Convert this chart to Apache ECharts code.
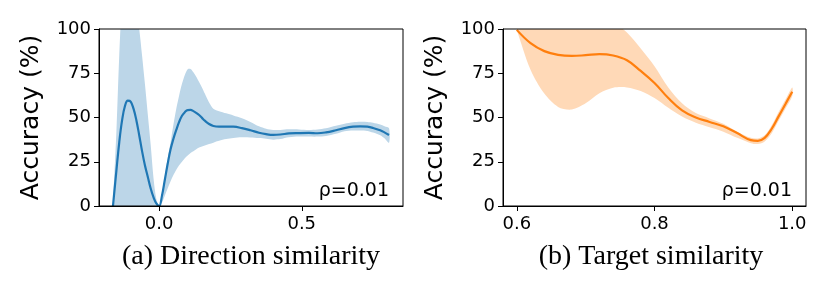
<!DOCTYPE html>
<html>
<head>
<meta charset="utf-8">
<script src="https://cdn.jsdelivr.net/npm/echarts@6/dist/echarts.min.js"></script>
<style>html,body{margin:0;padding:0;background:#fff}#c{width:830px;height:281px}</style>
</head>
<body>
<div id="c"></div>
<script>
// ---- Data: (a) Direction similarity ----
const xA = [-0.162,-0.15,-0.14,-0.13,-0.12,-0.11,-0.10,-0.09,-0.08,-0.07,-0.06,-0.05,-0.04,-0.03,-0.02,-0.01,0.0,0.01,0.02,0.03,0.04,0.05,0.06,0.07,0.08,0.09,0.10,0.11,0.12,0.13,0.14,0.15,0.16,0.175,0.19,0.21,0.235,0.26,0.29,0.32,0.35,0.375,0.40,0.425,0.455,0.49,0.525,0.555,0.585,0.62,0.65,0.68,0.705,0.73,0.75,0.775,0.79,0.806];
const meanA = [0,20,36,48.5,56.5,59.5,59,55,48.5,40,31,23,16.5,10,5,1.5,0,6,15,24,32,38,43,47.5,51,53,54.2,54.3,53.6,52.6,51.4,49.8,48.2,46.3,45.2,44.8,44.9,44.8,44,42.8,41.4,40.6,40.2,40.4,41,41.2,41.3,41.1,41.6,42.8,44,44.8,45,44.8,44.1,42.8,41.6,40.1];
const upA = [2,42,85,118,135,140,137,126,110,100,85,69,52,35,16,4,0,7,17,27,36,46,55,62.5,69,74,77.3,77.4,75.5,73,70,67,63.5,58.5,55,53.6,52.4,51.2,49.6,47.5,45,43.6,42.9,43,43.3,43.2,42.9,43.2,43.9,45.3,46.5,47.3,47.6,47.5,47,46,45.1,43.9];
const lowA = [0,-20,-40,-55,-65,-68,-66,-60,-50,-40,-30,-22,-15,-9,-4,-1,0,2,6,10,14,17.5,20.5,23,25,27,28.5,30,31,32,33,33.6,34.2,35,35.8,36.8,37.8,38.4,38.8,38.7,38.4,38,37.5,37.8,38.8,39.2,39.2,39.2,39.5,40.8,42.2,42.6,42.6,42.4,41.5,40,38.3,35.8];

// ---- Data: (b) Target similarity ----
const xB = [0.60,0.62,0.64,0.66,0.68,0.70,0.72,0.74,0.76,0.78,0.80,0.82,0.84,0.86,0.88,0.90,0.92,0.94,0.95,0.96,0.97,0.98,0.99,1.00];
const meanB = [99.5,92,87.5,85.4,84.8,85.2,85.8,85,82.3,76.3,69.5,61,54,50,47.5,45,41.2,37.2,36.8,38.5,43.5,50.5,57.5,64.6];
const upB = [99.5,108,112,115,116,114,110,104,98,89,79,67,58,52.5,49.5,46.5,42,38.5,38.2,40,45.5,53,60,67];
const lowB = [99.5,77,63.5,56,54.5,58,63.7,66.8,67,65,61,55.5,50.5,47,44.5,42,38.5,35.5,35,36.5,41,48,55,62];

// ---- Ticks / labels ----
const yTicks = [0,25,50,75,100];
const xTicksA = [0.0, 0.5];
const xTicksB = [0.6, 0.8, 1.0];
const yName = 'Accuracy (%)';
const captionA = '(a) Direction similarity';
const captionB = '(b) Target similarity';
const rhoA = 'ρ=0.01';
const rhoB = 'ρ=0.01';

const SANS = 'DejaVu Sans';

function xAxisCfg(idx, min, max, ticks) {
  return {
    type: 'value', gridIndex: idx, min: min, max: max, z: 10,
    axisLine: {show: true, onZero: false, lineStyle: {color: '#000', width: 1}},
    axisTick: {show: true, length: 5, lineStyle: {color: '#000', width: 1}, customValues: ticks},
    axisLabel: {customValues: ticks, formatter: v => Number(v).toFixed(1), color: '#000', fontSize: 18, fontFamily: SANS, margin: 9},
    splitLine: {show: false}
  };
}
function yAxisCfg(idx) {
  return {
    type: 'value', gridIndex: idx, min: 0, max: 100, interval: 25, z: 10,
    name: yName, nameLocation: 'middle', nameRotate: 90, nameGap: 55,
    nameTextStyle: {color: '#000', fontSize: 25, fontFamily: SANS},
    axisLine: {show: true, onZero: false, lineStyle: {color: '#000', width: 1}},
    axisTick: {show: true, length: 5, lineStyle: {color: '#000', width: 1}},
    axisLabel: {color: '#000', fontSize: 18, fontFamily: SANS, margin: 8,
      formatter: v => (yTicks.indexOf(v) >= 0 ? String(v) : '')},
    splitLine: {show: false}
  };
}
// confidence band drawn as one polygon through the axis scales
function band(idx, xs, lo, hi, color) {
  return {
    type: 'custom', xAxisIndex: idx, yAxisIndex: idx, silent: true, z: 1, clip: true,
    data: xs.map((x, i) => [x, lo[i], hi[i]]),
    encode: {x: 0, y: [1, 2]},
    renderItem: function (params, api) {
      if (params.dataIndex !== 0) return null;
      const pts = [];
      for (let i = 0; i < xs.length; i++) pts.push(api.coord([xs[i], hi[i]]));
      for (let i = xs.length - 1; i >= 0; i--) pts.push(api.coord([xs[i], lo[i]]));
      const cs = params.coordSys;
      return {
        type: 'polygon',
        shape: {points: pts, smooth: 0.3},
        style: {fill: color, stroke: null},
        clipPath: {type: 'rect', shape: {x: cs.x, y: cs.y, width: cs.width, height: cs.height}}
      };
    }
  };
}
function meanLine(idx, xs, ys, color) {
  return {type: 'line', xAxisIndex: idx, yAxisIndex: idx, data: xs.map((x, i) => [x, ys[i]]),
    symbol: 'none', smooth: 0.4, silent: true, lineStyle: {color: color, width: 2.2}, z: 5};
}

const chart = echarts.init(document.getElementById('c'), null, {renderer: 'canvas'});
chart.setOption({
  animation: false,
  backgroundColor: '#fff',
  grid: [
    {left: 99, top: 29, width: 304, height: 177, show: true, borderColor: '#000', borderWidth: 1, backgroundColor: 'transparent', z: 8},
    {left: 503, top: 29, width: 303, height: 177, show: true, borderColor: '#000', borderWidth: 1, backgroundColor: 'transparent', z: 8}
  ],
  xAxis: [xAxisCfg(0, -0.211, 0.855, xTicksA), xAxisCfg(1, 0.58, 1.02, xTicksB)],
  yAxis: [yAxisCfg(0), yAxisCfg(1)],
  series: [
    band(0, xA, lowA, upA, '#bcd6e8'),
    meanLine(0, xA, meanA, '#1f77b4'),
    band(1, xB, lowB, upB, '#ffd9b7'),
    meanLine(1, xB, meanB, '#ff7f0e')
  ],
  graphic: [
    {type: 'text', x: 389, y: 191, z: 10, style: {text: rhoA, font: '19px "DejaVu Sans"', fill: '#000', textAlign: 'right', textVerticalAlign: 'middle'}},
    {type: 'text', x: 792, y: 191, z: 10, style: {text: rhoB, font: '19px "DejaVu Sans"', fill: '#000', textAlign: 'right', textVerticalAlign: 'middle'}},
    {type: 'text', x: 251, y: 257, style: {text: captionA, font: '28px "Liberation Serif"', fill: '#000', textAlign: 'center', textVerticalAlign: 'middle'}},
    {type: 'text', x: 651, y: 257, style: {text: captionB, font: '28px "Liberation Serif"', fill: '#000', textAlign: 'center', textVerticalAlign: 'middle'}}
  ]
});
</script>
</body>
</html>
